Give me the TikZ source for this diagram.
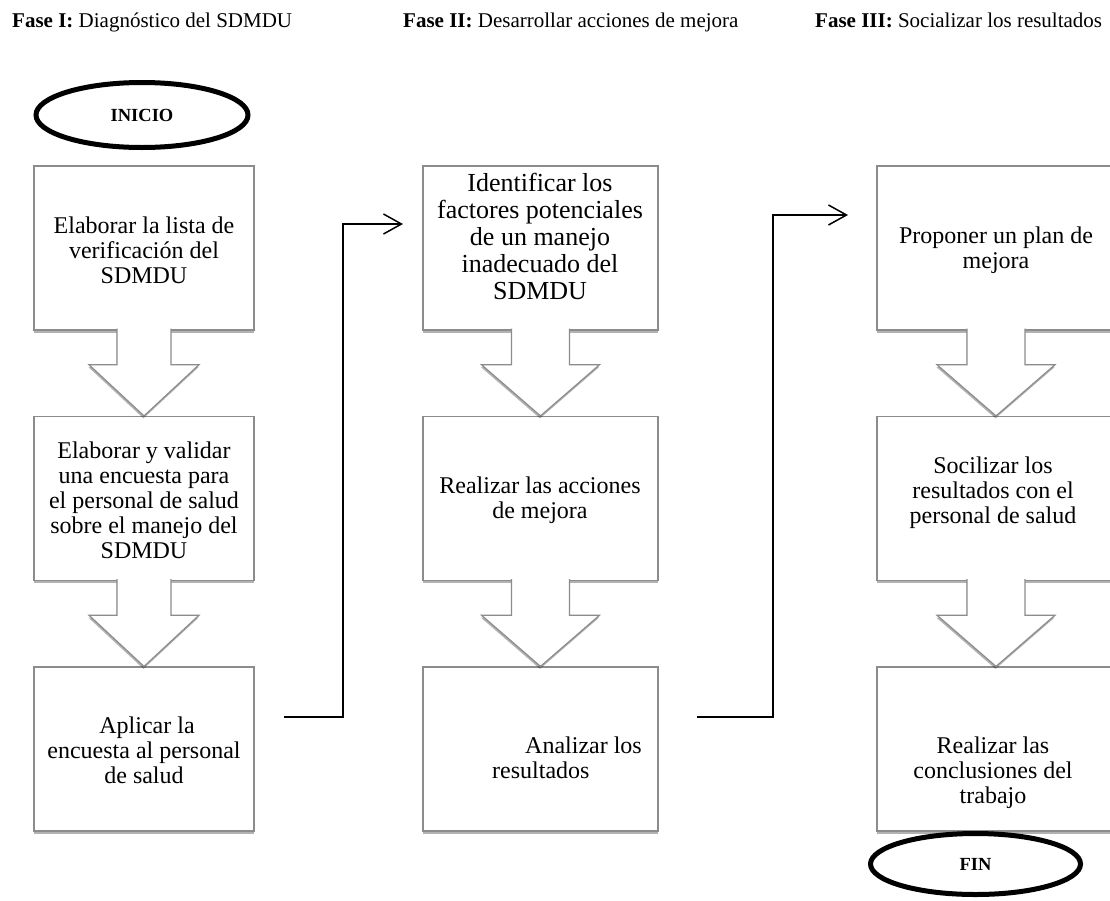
\documentclass[tikz,border=0pt]{standalone}
\usepackage{fontspec}
\setmainfont{Liberation Serif}
\usetikzlibrary{arrows.meta,shapes.geometric,shadows,calc}
\definecolor{boxgray}{HTML}{8C8C8C}
\newcommand\downcallout[4]{%
  \filldraw[callout] let \p1=(#1.south), \p2=(#2.north) in
    (\x1-#3,\y1+2pt) -- (\x1-#3,{\y1+0.4*(\y2-\y1)}) -- (\x1-#4,{\y1+0.4*(\y2-\y1)})
    -- (\x2,\y2) -- (\x1+#4,{\y1+0.4*(\y2-\y1)}) -- (\x1+#3,{\y1+0.4*(\y2-\y1)})
    -- (\x1+#3,\y1+2pt);}
\tikzset{
  stepbox/.style={draw=boxgray, line width=1.2pt, fill=white, minimum height=164pt,
    inner sep=0pt, drop shadow={shadow xshift=-0.5pt, shadow yshift=-2.5pt, opacity=0.3, fill=black}},
  callout/.style={draw=boxgray, line width=1.2pt, fill=white, line join=miter,
    drop shadow={shadow xshift=-0.5pt, shadow yshift=-2.5pt, opacity=0.3, fill=black}},
  boxtext/.style={align=center, inner sep=0pt, font=\fontsize{24}{25}\selectfont},
  term/.style={ellipse, draw=black, line width=5pt, inner sep=0pt, fill=white,
    font=\bfseries\fontsize{18.5}{20}\selectfont},
  header/.style={anchor=base west, inner sep=0pt, font=\fontsize{21}{24}\selectfont},
  conn/.style={line width=1.5pt, draw=black, -{Straight Barb[length=18pt,width=20pt,line width=1.5pt]}}
}
\begin{document}
\begin{tikzpicture}[x=1pt,y=-1pt]
\useasboundingbox (0,0) rectangle (1110,900);
\clip (0,0) rectangle (1110,900);
\fill[white] (0,0) rectangle (1110,900);

% headers
\node[header] (h1) at (12,27) {\textbf{Fase I:} Diagnóstico del SDMDU};
\node[header] (h2) at (403,27) {\textbf{Fase II:} Desarrollar acciones de mejora};
\node[header] (h3) at (815,27) {\textbf{Fase III:} Socializar los resultados};

% terminals
\node[term, minimum width=212pt, minimum height=65pt] (inicio) at (142,115) {INICIO};

% column 1
\node[stepbox, minimum width=220pt] (a1) at (144,248) {};
\node[stepbox, minimum width=220pt] (a2) at (144,498.5) {};
\node[stepbox, minimum width=220pt] (a3) at (144,749) {};

% column 2
\node[stepbox, minimum width=235pt] (b1) at (540.5,248) {};
\node[stepbox, minimum width=235pt] (b2) at (540.5,498.5) {};
\node[stepbox, minimum width=235pt] (b3) at (540.5,749) {};

% column 3
\node[stepbox, minimum width=238pt] (c1) at (996,248) {};
\node[stepbox, minimum width=238pt] (c2) at (996,498.5) {};
\node[stepbox, minimum width=238pt] (c3) at (996,749) {};

% arrow callouts
\downcallout{a1}{a2}{27pt}{55pt}
\downcallout{a2}{a3}{27pt}{55pt}
\downcallout{b1}{b2}{29pt}{59pt}
\downcallout{b2}{b3}{29pt}{59pt}
\downcallout{c1}{c2}{29pt}{59pt}
\downcallout{c2}{c3}{29pt}{59pt}

% texts
\node[boxtext] (ta1) at (144,250) {Elaborar la lista de\\verificación del\\SDMDU};
\node[boxtext] (ta2) at (144,500) {Elaborar y validar\\una encuesta para\\el personal de salud\\sobre el manejo del\\SDMDU};
\node[boxtext] (ta3) at (144,750) {\hspace*{6pt}Aplicar la\\encuesta al personal\\de salud};
\node[boxtext, font=\fontsize{26}{27}\selectfont] (tb1) at (540,236) {Identificar los\\factores potenciales\\de un manejo\\inadecuado del\\SDMDU};
\node[boxtext] (tb2) at (540,500) {Realizar las acciones\\de mejora};
\node[boxtext, align=left, anchor=west] (tb3) at (492,757.5) {\hspace*{33pt}Analizar los\\resultados};
\node[boxtext] (tc1) at (996,250) {Proponer un plan de\\mejora};
\node[boxtext] (tc2) at (993,493) {Socilizar los\\resultados con el\\personal de salud};
\node[boxtext] (tc3) at (993,773) {Realizar las\\conclusiones del\\trabajo};

\node[term, minimum width=210pt, minimum height=61pt] (fin) at (975.5,864) {FIN};

% connectors
\coordinate (s1) at (284,717);
\coordinate (v1) at (343,470);
\coordinate (e1) at (403,224);
\draw[conn] (s1) -- (s1 -| v1) -- (v1 |- e1) -- (e1);
\coordinate (s2) at (697,717);
\coordinate (v2) at (773,470);
\coordinate (e2) at (848,215);
\draw[conn] (s2) -- (s2 -| v2) -- (v2 |- e2) -- (e2);
\end{tikzpicture}
\end{document}
